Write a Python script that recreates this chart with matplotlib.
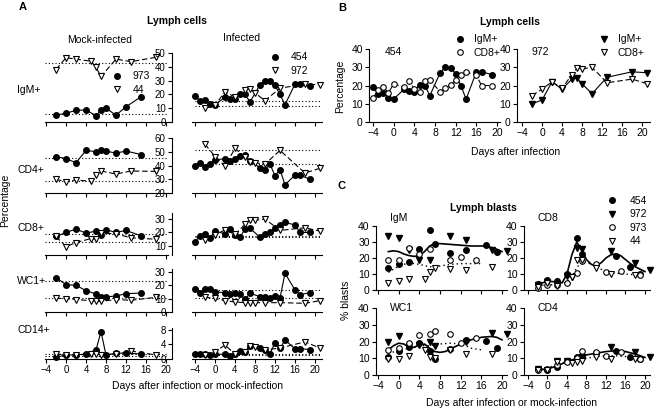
import numpy as np
import matplotlib
matplotlib.use('Agg')
import matplotlib.pyplot as plt
from matplotlib.lines import Line2D

plt.rcParams['font.family'] = ['Liberation Sans', 'DejaVu Sans']
plt.rcParams['font.size'] = 7

# ---------------- data : panel A (lymph cells) ----------------
rows = ['IgM+', 'CD4+', 'CD8+', 'WC1+', 'CD14+']

d973 = [-2, 0, 2, 4, 6, 7, 8, 10, 12, 15]
d44 = [-2, 0, 2, 5, 6, 7, 10, 13, 18]
d454 = [-4, -3, -2, -1, 0, 2, 3, 4, 5, 6, 7, 9, 10, 11, 12, 13, 14, 16, 17, 19]
d972 = [-2, 0, 2, 4, 6, 7, 8, 10, 13, 18, 21]

mock_973 = {
    'IgM+': [5, 6.3, 8.5, 8.7, 4.6, 8.7, 9.9, 5, 11, 18.3],
    'CD4+': [46.5, 45, 42, 51, 50, 51.3, 50.5, 49, 50.5, 48],
    'CD8+': [17, 20, 22.5, 19.5, 21, 18, 22, 20, 21.5, 17.5],
    'WC1+': [25.8, 20.5, 20, 16, 13.5, 11.5, 11.3, 12, 13.7, 14.2],
    'CD14+': [0.5, 1.1, 1.1, 1.4, 2.5, 7.5, 1.1, 1.6, 1.6, 1.4],
}
mock_44 = {
    'IgM+': [38, 46.6, 45.6, 44, 39.6, 33, 45.6, 43.7, 46.9],
    'CD4+': [30, 28.2, 29.5, 28.5, 33, 36, 33.8, 36, 35.7],
    'CD8+': [17, 9.5, 12.5, 15.5, 15, 19.5, 19, 16, 15],
    'WC1+': [10.3, 10, 9.3, 8.5, 8, 8, 9.3, 8.8, 11],
    'CD14+': [1.4, 1.1, 1.1, 1.4, 1.4, 1.2, 1.3, 2.2, 1.1],
}
inf_454 = {
    'IgM+': [19, 15.5, 16, 13, 12.5, 18, 17, 16.5, 20.5, 20, 14.5, 27, 30, 29.5, 26.5, 20, 12.5, 27.5, 27.5, 26],
    'CD4+': [40, 42, 39, 41, 44, 45, 43.5, 45, 47, 48, 43, 38.5, 37, 41, 32.5, 37, 26, 33, 33, 30],
    'CD8+': [13, 17.5, 19, 16, 21, 19, 22.5, 18, 16.5, 22.5, 23, 16.5, 18.5, 20.5, 23, 25.5, 27.5, 25.5, 20, 20],
    'WC1+': [17, 14.5, 17, 17, 15, 14.5, 13.5, 14.5, 13.5, 9.5, 14, 11.5, 11.5, 10.5, 12, 10.5, 29, 16.5, 13, 14.5],
    'CD14+': [1.5, 1.3, 1.4, 1.1, 1.3, 1.3, 0.9, 1.3, 2.3, 2.0, 3.7, 2.9, 2.6, 1.5, 4.5, 2.9, 5.2, 2.8, 2.8, 2.6],
}
inf_972 = {
    'IgM+': [10, 12, 22, 18, 23.5, 24, 21, 15.5, 24.5, 27.5, 27],
    'CD4+': [55.5, 46.5, 39.5, 52.5, 46, 42.5, 42, 41, 51, 34.5, 38],
    'CD8+': [14.5, 18, 22, 18.5, 26, 29.5, 29, 30, 21.5, 23.5, 21],
    'WC1+': [11, 10.3, 8.5, 7.5, 7, 7, 7, 7, 7, 6.5, 8.5],
    'CD14+': [1.1, 2.0, 3.8, 1.4, 1.8, 3.5, 3.2, 2.5, 3.0, 4.7, 3.0],
}
mock_ref = {'IgM+': [42.5, 5.8], 'CD4+': [45.4, 29], 'CD8+': [18.6, 13.2],
            'WC1+': [23.3, 10.3], 'CD14+': [1.5, 0.8]}
inf_ref = {'IgM+': [15.4, 11.6], 'CD4+': [51, 41], 'CD8+': [17.5, 16.5],
           'WC1+': [16.5, 10.3], 'CD14+': [1.5, 1.1]}
row_ylim = {'IgM+': (0, 50), 'CD4+': (20, 60), 'CD8+': (3.3, 34.4),
            'WC1+': (0, 32.2), 'CD14+': (0, 8.5)}
row_yticks = {'IgM+': [0, 10, 20, 30, 40, 50], 'CD4+': [20, 30, 40, 50, 60],
              'CD8+': [10, 20, 30], 'WC1+': [0, 10, 20, 30], 'CD14+': [0, 4, 8]}

# ---------------- data : panel C (lymph blasts) ----------------
blast_panels = ['IgM', 'CD8', 'WC1', 'CD4']
b454 = {
    'IgM': ([-2, 0, 2, 4, 6, 7, 10, 13, 17, 19], [13.5, 16.5, 17.5, 25.5, 37.5, 29, 23, 25, 28, 23.5]),
    'CD8': ([-2, 0, 2, 4, 6, 7, 14, 17, 19], [3.5, 6.5, 5.5, 10, 32.5, 22.5, 21, 14.5, 10]),
    'WC1': ([-2, 0, 2, 4, 6, 7, 10, 13, 17, 19], [10.5, 14.5, 16.5, 19, 14.5, 9.5, 15.5, 21, 20.5, 16]),
    'CD4': ([-2, 0, 2, 4, 6, 7, 10, 14, 17, 19], [3.5, 3, 5, 8.5, 10.5, 11, 13, 14.5, 11, 9.5]),
}
b972 = {
    'IgM': ([-2, 0, 2, 4, 6, 10, 13, 18, 21], [34, 32.5, 25, 19, 18.5, 34, 31, 25, 24.5]),
    'CD8': ([-2, 0, 2, 4, 5, 6, 7, 10, 13, 18, 21], [3, 5, 4, 9, 8, 26, 25.5, 14.5, 24.5, 17, 12.5]),
    'WC1': ([-2, 0, 2, 4, 6, 7, 13, 18, 21], [19.5, 23.5, 17.5, 18, 20, 17.5, 20, 25, 24.5]),
    'CD4': ([-2, 0, 2, 4, 6, 7, 10, 13, 18, 21], [3.5, 3, 8.5, 8.5, 9.5, 10.5, 12, 16.5, 13.5, 10.5]),
}
b973 = {
    'IgM': ([-2, 0, 2, 4, 6, 10, 12, 15], [19, 18.5, 26, 22.5, 25.5, 18.5, 20.5, 18.5]),
    'CD8': ([-2, 0, 2, 4, 6, 7, 10, 12, 15, 19], [1.5, 3, 3, 4.5, 10.5, 18, 16, 11, 12, 9.5]),
    'WC1': ([-2, 0, 2, 4, 6, 7, 10, 12, 15], [15, 16, 19, 24, 24.5, 26, 24.5, 19, 22]),
    'CD4': ([-2, 0, 2, 4, 6, 7, 10, 12, 15, 19], [3, 3.5, 6, 8, 10, 14.5, 13.5, 11.5, 14, 9.5]),
}
b44 = {
    'IgM': ([-2, 0, 2, 5, 6, 7, 10, 13, 18], [4.5, 5.5, 7, 7, 11, 14, 13, 12.5, 14.5]),
    'CD8': ([-2, 0, 2, 5, 6, 7, 10, 13, 18], [2, 4.5, 2.5, 8, 18.5, 19, 14, 10, 9.5]),
    'WC1': ([-2, 0, 2, 5, 6, 7, 10, 13, 18], [9.5, 9.5, 11.5, 15, 10.5, 10, 15, 12.5, 12.5]),
    'CD4': ([-2, 0, 2, 5, 6, 7, 10, 13, 18], [3, 3, 7.5, 7, 8, 8.5, 11, 9.5, 9.5]),
}
# smooth trend curves read along the drawn fits
fit_inf = {
    'IgM': ([-2, -1, 0, 1, 2, 3, 4, 5, 6, 7, 8, 10, 12, 14, 16, 17, 18, 19, 20],
            [24, 24.5, 24, 22.5, 21.5, 21, 21.5, 24, 27.5, 29, 29, 28.5, 28, 27.5, 27.5, 27.5, 26.5, 25.5, 24]),
    'CD8': ([-2, 0, 2, 3, 4, 5, 6, 7, 8, 9, 10, 11, 12, 13, 14, 15, 16, 17, 18, 19, 20],
            [3.5, 5.5, 5, 4.5, 10, 22, 30, 25, 19, 16, 15, 17, 20, 22, 22.5, 21.5, 19, 16.5, 14.5, 13, 11.5]),
    'WC1': ([-2, -1, 0, 1, 2, 3, 4, 5, 6, 7, 8, 9, 10, 12, 14, 16, 18, 19, 20],
            [15, 17.5, 19, 18.5, 16.5, 16.5, 18, 18.5, 16, 14, 13.5, 14, 15.5, 18.5, 21, 22.5, 23, 22.5, 21]),
    'CD4': ([-2, 0, 2, 4, 6, 8, 10, 12, 14, 16, 18, 20],
            [3, 3.5, 5.5, 8, 10, 12, 13, 14, 14.5, 14, 12.5, 10.5]),
}
fit_mock = {
    'IgM': ([-2, 0, 2, 4, 6, 8, 10, 12, 14, 16],
            [11, 15, 17, 16, 14.5, 15, 16, 16.5, 16.5, 16.5]),
    'CD8': ([-2, 0, 2, 4, 5, 6, 7, 8, 10, 12, 14, 16, 18],
            [2.5, 3.5, 3, 5, 8, 14, 17.5, 17.5, 14.5, 11.5, 10.5, 10, 9.5]),
    'WC1': ([-2, 0, 2, 4, 6, 8, 10, 12, 13, 14, 16],
            [13, 14.5, 16, 17.5, 17.5, 18.5, 19, 18.5, 17.5, 16, 15]),
    'CD4': ([-2, 0, 2, 4, 6, 8, 10, 12, 14, 16, 18],
            [3, 4, 6.5, 8, 9, 10, 11, 11.5, 11.5, 11, 10.5]),
}

# ---------------- figure ----------------
W, H = 656, 409
fig = plt.figure(figsize=(W / 100, H / 100), dpi=100)


def px_axes(left, top, right, bottom):
    return fig.add_axes([left / W, 1 - bottom / H, (right - left) / W, (bottom - top) / H])


def px_text(x, y, s, **kw):
    fig.text(x / W, 1 - y / H, s, **kw)


def style(ax, left=True):
    ax.spines['top'].set_visible(False)
    ax.spines['right'].set_visible(False)
    if not left:
        ax.spines['left'].set_visible(False)
        ax.set_yticks([])
    for s in ax.spines.values():
        s.set_linewidth(0.8)
    ax.tick_params(direction='out', length=3, width=0.8, labelsize=7, pad=1.5)
    ax.patch.set_alpha(0)


circ = dict(marker='o', color='k', mfc='k', mec='k', ms=4, lw=0.8)
circ_o = dict(marker='o', color='k', mfc='white', mec='k', ms=4, lw=0.8, mew=0.8)
tri = dict(marker='v', color='k', mfc='k', mec='k', ms=4, lw=0.8)
tri_o = dict(marker='v', color='k', mfc='white', mec='k', ms=4, lw=0.8, mew=0.8)
dash = (0, (5, 2.5))

# ---- panel A ----
row_px = {'IgM+': (53, 122), 'CD4+': (138, 193), 'CD8+': (213, 255),
          'WC1+': (269, 312), 'CD14+': (328, 359)}
row_label_y = {'IgM+': 90, 'CD4+': 170, 'CD8+': 228, 'WC1+': 281, 'CD14+': 330}

for i, r in enumerate(rows):
    top, bot = row_px[r]
    last = i == len(rows) - 1
    # mock-infected
    am = px_axes(45, top, 168, bot)
    style(am, left=False)
    am.set_xlim(-4.2, 20.4)
    am.set_ylim(*row_ylim[r])
    am.set_xticks([-4, 0, 4, 8, 12, 16, 20])
    if not last:
        am.set_xticklabels([])
    for v in mock_ref[r]:
        am.axhline(v, 0, 1, color='k', lw=0.8, ls=(0, (1, 2)))
    am.plot(d973, mock_973[r], clip_on=False, zorder=3, **circ)
    am.plot(d44, mock_44[r], ls=dash, clip_on=False, zorder=3, **tri_o)
    # infected
    ai = px_axes(172, top, 322, bot)
    style(ai)
    ai.set_xlim(-8.6, 21.4)
    ai.spines['bottom'].set_bounds(-4.6, 21.4)
    ai.set_ylim(*row_ylim[r])
    ai.set_yticks(row_yticks[r])
    ai.set_xticks([-4, 0, 4, 8, 12, 16, 20])
    if not last:
        ai.set_xticklabels([])
    for v in inf_ref[r]:
        ai.axhline(v, 0.153, 1, color='k', lw=0.8, ls=(0, (1, 2)))
    ai.plot(d454, inf_454[r], clip_on=False, zorder=3, **circ)
    ai.plot(d972, inf_972[r], ls=dash, clip_on=False, zorder=3, **tri_o)
    px_text(17, row_label_y[r], r, ha='left', va='center', fontsize=7.5)


def marker_legend(x, y, handles, labels, gap=1.3):
    fig.legend(handles, labels, loc='center left', bbox_to_anchor=(x / W, 1 - y / H),
               frameon=False, fontsize=7.5, handlelength=1.0, handletextpad=gap,
               labelspacing=0.35, borderpad=0, borderaxespad=0)


def h(style_kw):
    kw = dict(style_kw)
    kw.pop('lw', None)
    return Line2D([], [], ls='none', **kw)


marker_legend(112, 83, [h(circ), h(tri_o)], ['973', '44'], gap=1.0)
marker_legend(270, 64, [h(circ), h(tri_o)], ['454', '972'], gap=1.0)

px_text(23, 7, 'A', fontsize=8, fontweight='bold', ha='center', va='center')
px_text(177, 21, 'Lymph cells', fontsize=7.5, fontweight='bold', ha='center', va='center')
px_text(100, 40, 'Mock-infected', fontsize=7.5, ha='center', va='center')
px_text(242, 38, 'Infected', fontsize=7.5, ha='center', va='center')
px_text(5, 200, 'Percentage', fontsize=7.5, rotation=90, ha='center', va='center')
px_text(197, 386, 'Days after infection or mock-infection', fontsize=7.5, ha='center', va='center')

# ---- panel B ----
bl = px_axes(369, 49, 500, 122)
br = px_axes(517, 49, 650, 122)
for ax, xl in ((bl, (-4.77, 20.56)), (br, (-5.0, 21.6))):
    style(ax)
    ax.set_xlim(*xl)
    ax.set_ylim(0, 40)
    ax.set_yticks([0, 10, 20, 30, 40])
    ax.set_xticks([-4, 0, 4, 8, 12, 16, 20])
    ax.tick_params(labelsize=7.5)
bl.plot(d454, inf_454['IgM+'], clip_on=False, zorder=3, **circ)
bl.plot(d454, inf_454['CD8+'], ls=dash, clip_on=False, zorder=3, **circ_o)
br.plot(d972, inf_972['IgM+'], clip_on=False, zorder=3, **tri)
br.plot(d972, inf_972['CD8+'], ls=dash, clip_on=False, zorder=3, **tri_o)
marker_legend(455, 46, [h(circ), h(circ_o)], ['IgM+', 'CD8+'], gap=0.8)
marker_legend(599, 46, [h(tri), h(tri_o)], ['IgM+', 'CD8+'], gap=0.8)
px_text(385, 52, '454', fontsize=7.5, ha='left', va='center')
px_text(532, 52, '972', fontsize=7.5, ha='left', va='center')
px_text(342, 8, 'B', fontsize=8, fontweight='bold', ha='center', va='center')
px_text(510, 22, 'Lymph cells', fontsize=7.5, fontweight='bold', ha='center', va='center')
px_text(340, 86, 'Percentage', fontsize=7.5, rotation=90, ha='center', va='center')
px_text(516, 152, 'Days after infection', fontsize=7.5, ha='center', va='center')

# ---- panel C ----
c_px = {'IgM': (376, 226, 507, 290), 'CD8': (524, 226, 650, 290),
        'WC1': (376, 308, 507, 375), 'CD4': (524, 308, 650, 375)}
c_xlim = {'IgM': (-4.39, 20.97), 'CD8': (-4.82, 21.03),
          'WC1': (-4.39, 20.97), 'CD4': (-4.82, 21.03)}
c_label_dy = {'IgM': -8, 'CD8': -8, 'WC1': 0, 'CD4': 0}
for p in blast_panels:
    l, t, rr, b = c_px[p]
    ax = px_axes(l, t, rr, b)
    style(ax)
    ax.set_xlim(*c_xlim[p])
    ax.set_ylim(0, 40)
    ax.set_yticks([0, 10, 20, 30, 40])
    ax.set_xticks([-4, 0, 4, 8, 12, 16, 20])
    ax.tick_params(labelsize=7.5)
    if p in ('IgM', 'CD8'):
        ax.set_xticklabels([])
    ax.plot(*fit_mock[p], color='k', lw=1.0, ls=(0, (1, 2.2)), zorder=2)
    ax.plot(*fit_inf[p], color='k', lw=1.2, zorder=2)
    ax.plot(*b454[p], ls='none', clip_on=False, zorder=3, **circ)
    ax.plot(*b972[p], ls='none', clip_on=False, zorder=3, **tri)
    ax.plot(*b973[p], ls='none', clip_on=False, zorder=3, **circ_o)
    ax.plot(*b44[p], ls='none', clip_on=False, zorder=3, **tri_o)
    px_text(l + 14, t + c_label_dy[p], p, fontsize=7.5, ha='left', va='center')

marker_legend(607, 221, [h(circ), h(tri), h(circ_o), h(tri_o)],
              ['454', '972', '973', '44'], gap=1.2)
px_text(342, 186, 'C', fontsize=8, fontweight='bold', ha='center', va='center')
px_text(483, 208, 'Lymph blasts', fontsize=7.5, fontweight='bold', ha='center', va='center')
px_text(346, 300, '% blasts', fontsize=7.5, rotation=90, ha='center', va='center')
px_text(512, 403, 'Days after infection or mock-infection', fontsize=7.5, ha='center', va='center')

fig.savefig('out.png', dpi=100)
